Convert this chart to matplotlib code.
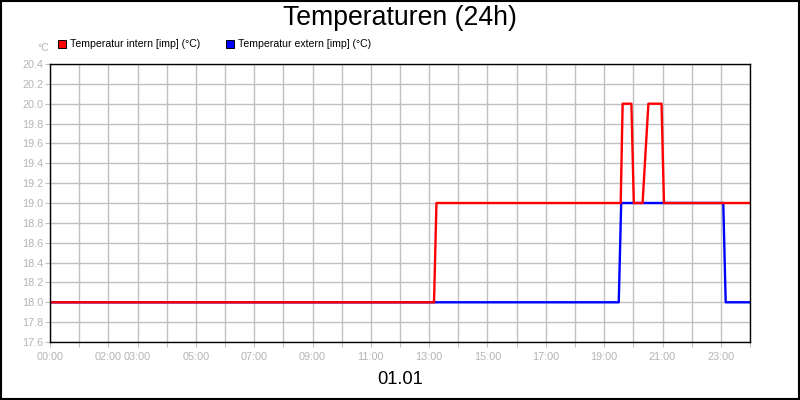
import numpy as np
import matplotlib
matplotlib.use("Agg")
import matplotlib.pyplot as plt
from matplotlib.patches import Rectangle

plt.rcParams['font.family'] = ['Liberation Sans', 'DejaVu Sans']

# data
title = "Temperaturen (24h)"
date_label = "01.01"
series_names = ["Temperatur intern [imp] (°C)", "Temperatur extern [imp] (°C)"]
series_colors = ["#ff0000", "#0000ff"]

intern_times = ["00:00", "13:10", "13:15", "19:34", "19:38", "19:56", "20:01",
                "20:19", "20:31", "20:58", "21:03", "24:00"]
intern_vals = [18.0, 18.0, 19.0, 19.0, 20.0, 20.0, 19.0,
               19.0, 20.0, 20.0, 19.0, 19.0]

extern_times = ["00:00", "19:30", "19:35", "23:05", "23:10", "24:00"]
extern_vals = [18.0, 18.0, 19.0, 19.0, 18.0, 18.0]

xtick_hours = [0, 2, 3, 5, 7, 9, 11, 13, 15, 17, 19, 21, 23]
ytick_vals = np.round(np.arange(17.6, 20.41, 0.2), 1)


def to_hours(t):
    h, m = t.split(":")
    return int(h) + int(m) / 60.0


gray_txt = "#b4b4b4"
grid_col = "#c0c0c0"

fig = plt.figure(figsize=(8, 4), dpi=100, facecolor="white")
ax = fig.add_axes([50 / 800, 58 / 400, 700 / 800, 278 / 400])

ax.plot([to_hours(t) for t in extern_times], extern_vals,
        color=series_colors[1], lw=1.7, zorder=3)
ax.plot([to_hours(t) for t in intern_times], intern_vals,
        color=series_colors[0], lw=1.7, zorder=4)

ax.set_xlim(0, 24)
ax.set_ylim(17.6, 20.4)

ax.set_xticks(range(0, 25))
ax.set_xticklabels(["%02d:00" % h if h in xtick_hours else "" for h in range(0, 25)])
ax.set_yticks(ytick_vals)
ax.set_yticklabels(["%.1f" % v for v in ytick_vals])

ax.grid(True, color=grid_col, lw=1.0, zorder=1)
ax.tick_params(axis="both", direction="out", length=3.5, width=0.8,
               color=grid_col, labelcolor=gray_txt, labelsize=7.8)
ax.tick_params(axis="x", pad=3.5)
ax.tick_params(axis="y", pad=1.0)
for s in ax.spines.values():
    s.set_color("black")
    s.set_linewidth(1.0)
    s.set_zorder(5)

# title and date
fig.text(0.5, 1 - 18 / 400, title, ha="center", va="center", fontsize=19.2)
fig.text(0.5, 1 - 380 / 400, date_label, ha="center", va="center", fontsize=13.2)

# unit label
fig.text(43 / 800, 1 - 48 / 400, "°C", ha="center", va="center",
         fontsize=7.7, color=gray_txt)

# legend
leg_x = [58, 226]
for name, col, lx in zip(series_names, series_colors, leg_x):
    fig.patches.append(Rectangle((lx / 800, 1 - 48 / 400), 8 / 800, 8 / 400,
                                 facecolor=col, edgecolor="black", lw=0.7,
                                 transform=fig.transFigure, figure=fig))
    fig.text((lx + 12) / 800, 1 - 44 / 400, name, ha="left", va="center",
             fontsize=7.6, color="black")

# outer border
fig.patches.append(Rectangle((0.001, 0.002), 0.998, 0.996, fill=False,
                             edgecolor="black", lw=1.5,
                             transform=fig.transFigure, figure=fig))

fig.savefig("out.png", dpi=100, facecolor="white")
